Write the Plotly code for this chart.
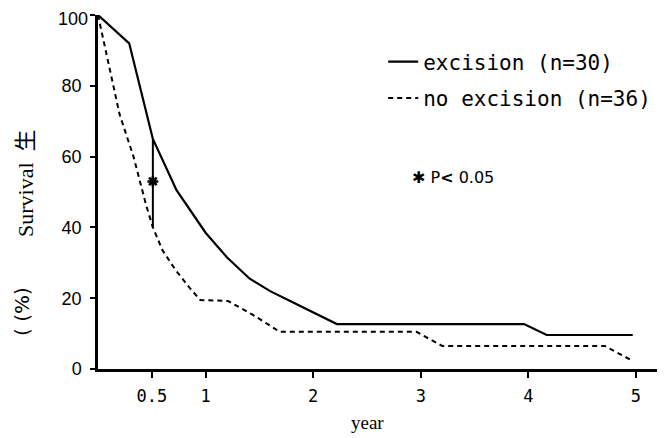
import plotly.graph_objects as go

# ---- data ----
years_excision = [0, 0.29, 0.51, 0.73, 1.0, 1.2, 1.41, 1.6, 1.8, 2.0, 2.22, 3.96, 4.17, 4.97]
surv_excision = [100, 92, 65, 50.5, 38.5, 31.5, 25.5, 22, 19, 16, 12.7, 12.7, 9.6, 9.6]

years_no_excision = [0, 0.2, 0.33, 0.45, 0.51, 0.6, 0.72, 0.85, 0.95, 1.21, 1.44, 1.69, 2.96, 3.2, 4.71, 4.97]
surv_no_excision = [100, 72, 60, 46, 40, 33.5, 28, 23, 19.5, 19.2, 15.3, 10.5, 10.5, 6.5, 6.5, 2.3]

sig_year = [0.51, 0.51]
sig_range = [65, 40]
sig_star = [53]

x_tickvals = [0.5, 1, 2, 3, 4, 5]
x_ticktext = ["0.5", "1", "2", "3", "4", "5"]
y_tickvals = [0, 20, 40, 60, 80, 100]
y_ticktext = ["0", "20", "40", "60", "80", ""]   # top label drawn as annotation (edge)
y_top_label = "100"

fig = go.Figure()
fig.add_trace(go.Scatter(
    x=years_excision, y=surv_excision, mode="lines",
    name="excision (n=30)", legendgroup="a",
    line=dict(color="black", width=2.2), cliponaxis=False))
fig.add_trace(go.Scatter(
    x=years_no_excision, y=surv_no_excision, mode="lines",
    name="no excision (n=36)", legendgroup="b",
    line=dict(color="black", width=2, dash="5px,4px"), cliponaxis=False))
fig.add_trace(go.Scatter(
    x=sig_year, y=sig_range, mode="lines", showlegend=False,
    line=dict(color="black", width=2)))
fig.add_trace(go.Scatter(
    x=[sig_year[0]], y=sig_star, mode="markers", showlegend=False,
    marker=dict(symbol="asterisk-open", size=9, color="black",
                line=dict(color="black", width=2.5))))

tick_font = dict(family="Liberation Sans", size=18, color="black")

# page body has an 8px default margin, so the figure is sized to compensate
fig.update_layout(
    width=657, height=430,
    margin=dict(l=90, r=0, t=7, b=69),
    paper_bgcolor="white", plot_bgcolor="white",
    showlegend=True,
    legend=dict(x=0.503, y=0.925, xanchor="left", yanchor="top",
                font=dict(family="DejaVu Sans Mono", size=21, color="black"),
                tracegroupgap=6, bgcolor="rgba(0,0,0,0)"),
    xaxis=dict(range=[0, 5.27], tickvals=x_tickvals, ticktext=x_ticktext,
               showline=True, linecolor="black", linewidth=2.5,
               ticks="outside", ticklen=6, tickwidth=2, tickcolor="black",
               showgrid=False, zeroline=False, ticklabelstandoff=4,
               tickfont=dict(family="DejaVu Sans Mono", size=17, color="black")),
    yaxis=dict(range=[0, 100], tickvals=y_tickvals, ticktext=y_ticktext,
               showline=True, linecolor="black", linewidth=2.5,
               ticks="outside", ticklen=5, tickwidth=2, tickcolor="black",
               showgrid=False, zeroline=False, ticklabelstandoff=5,
               tickfont=tick_font),
    annotations=[
        dict(text=y_top_label, xref="paper", yref="y", x=0, y=y_tickvals[-1],
             xanchor="right", yanchor="top", xshift=-9, yshift=7, borderpad=0,
             showarrow=False, font=tick_font),
        dict(text="year", xref="paper", yref="paper", x=0.475, y=-0.15,
             xanchor="center", yanchor="middle", showarrow=False,
             font=dict(family="Liberation Serif", size=19, color="black")),
        dict(text="Survival  生", xref="paper", yref="paper", x=-0.129, y=0.525,
             xanchor="center", yanchor="middle", showarrow=False, textangle=-90,
             font=dict(family="Liberation Serif, Noto Sans CJK SC", size=22, color="black")),
        dict(text="( (%)", xref="paper", yref="paper", x=-0.134, y=0.161,
             xanchor="center", yanchor="middle", showarrow=False, textangle=-90,
             font=dict(family="DejaVu Sans", size=20, color="black")),
        dict(text="✱ P<b><</b> 0.05", xref="x", yref="y", x=2.90, y=54.2,
             xanchor="left", yanchor="middle", showarrow=False,
             font=dict(family="DejaVu Sans", size=16, color="black")),
    ],
)

fig.write_html("out.html")
